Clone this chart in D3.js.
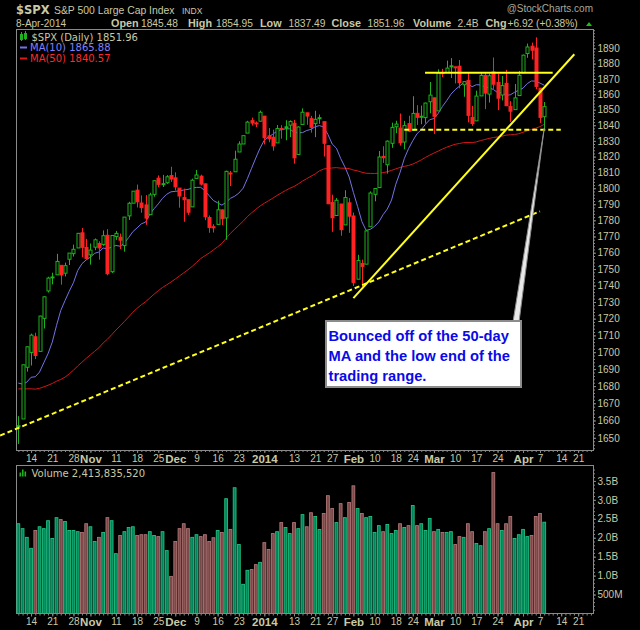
<!DOCTYPE html>
<html><head><meta charset="utf-8">
<script src="https://cdn.jsdelivr.net/npm/d3@7"></script>
<style>body{margin:0;background:#000;}svg{display:block;}</style>
</head><body>
<svg id="c" width="640" height="630"></svg>
<script>
// ---------------- DATA ----------------
const dates = ["2013-10-09","2013-10-10","2013-10-11","2013-10-14","2013-10-15","2013-10-16","2013-10-17","2013-10-18","2013-10-21","2013-10-22","2013-10-23","2013-10-24","2013-10-25","2013-10-28","2013-10-29","2013-10-30","2013-10-31","2013-11-01","2013-11-04","2013-11-05","2013-11-06","2013-11-07","2013-11-08","2013-11-11","2013-11-12","2013-11-13","2013-11-14","2013-11-15","2013-11-18","2013-11-19","2013-11-20","2013-11-21","2013-11-22","2013-11-25","2013-11-26","2013-11-27","2013-11-29","2013-12-02","2013-12-03","2013-12-04","2013-12-05","2013-12-06","2013-12-09","2013-12-10","2013-12-11","2013-12-12","2013-12-13","2013-12-16","2013-12-17","2013-12-18","2013-12-19","2013-12-20","2013-12-23","2013-12-24","2013-12-26","2013-12-27","2013-12-30","2013-12-31","2014-01-02","2014-01-03","2014-01-06","2014-01-07","2014-01-08","2014-01-09","2014-01-10","2014-01-13","2014-01-14","2014-01-15","2014-01-16","2014-01-17","2014-01-21","2014-01-22","2014-01-23","2014-01-24","2014-01-27","2014-01-28","2014-01-29","2014-01-30","2014-01-31","2014-02-03","2014-02-04","2014-02-05","2014-02-06","2014-02-07","2014-02-10","2014-02-11","2014-02-12","2014-02-13","2014-02-14","2014-02-18","2014-02-19","2014-02-20","2014-02-21","2014-02-24","2014-02-25","2014-02-26","2014-02-27","2014-02-28","2014-03-03","2014-03-04","2014-03-05","2014-03-06","2014-03-07","2014-03-10","2014-03-11","2014-03-12","2014-03-13","2014-03-14","2014-03-17","2014-03-18","2014-03-19","2014-03-20","2014-03-21","2014-03-24","2014-03-25","2014-03-26","2014-03-27","2014-03-28","2014-03-31","2014-04-01","2014-04-02","2014-04-03","2014-04-04","2014-04-07","2014-04-08"];
const open = [1656.99,1660.88,1691.09,1699.86,1709.17,1700.49,1720.17,1736.72,1745.20,1746.48,1752.27,1747.48,1756.01,1759.42,1762.93,1772.27,1763.24,1758.70,1763.40,1765.67,1765.00,1770.74,1748.37,1769.96,1769.51,1764.37,1782.75,1790.66,1798.82,1790.79,1789.59,1783.52,1796.19,1806.33,1802.87,1803.48,1808.01,1806.55,1800.10,1794.15,1792.82,1788.36,1806.21,1807.60,1802.76,1781.71,1776.01,1777.48,1786.47,1781.46,1809.00,1810.39,1822.92,1828.02,1834.96,1842.97,1841.47,1842.61,1845.86,1833.21,1832.31,1828.71,1837.90,1839.00,1840.06,1841.26,1821.36,1840.52,1847.99,1844.23,1841.05,1844.71,1842.29,1826.96,1791.03,1783.00,1790.15,1777.17,1790.88,1782.68,1743.82,1753.38,1752.99,1776.01,1796.20,1800.45,1820.12,1814.82,1828.46,1839.03,1838.22,1829.24,1841.07,1836.78,1847.66,1845.79,1844.90,1855.12,1857.68,1849.23,1874.05,1874.18,1878.52,1877.86,1878.26,1866.15,1869.06,1845.07,1842.81,1858.92,1872.25,1860.09,1874.53,1867.67,1859.48,1867.09,1852.11,1850.07,1859.16,1873.96,1886.61,1891.43,1890.25,1863.92,1845.48];
const high = [1662.47,1692.56,1703.44,1711.03,1711.57,1721.76,1733.45,1745.31,1747.79,1759.33,1752.27,1753.94,1759.82,1764.99,1772.09,1775.22,1768.53,1765.67,1768.78,1767.03,1773.74,1774.54,1770.78,1773.44,1771.78,1782.00,1791.53,1798.22,1802.33,1795.51,1795.73,1797.16,1804.84,1808.10,1808.42,1808.27,1813.55,1810.02,1800.10,1799.80,1792.82,1806.04,1811.52,1808.52,1802.97,1782.99,1777.60,1792.22,1786.77,1811.08,1810.88,1823.75,1829.75,1833.32,1842.84,1844.89,1842.47,1849.44,1845.86,1838.24,1837.16,1840.10,1840.02,1843.23,1843.15,1843.45,1839.26,1850.84,1847.99,1846.04,1849.31,1846.87,1842.29,1826.96,1795.98,1793.87,1790.15,1798.77,1793.88,1784.83,1758.73,1755.79,1774.06,1798.03,1799.94,1823.54,1826.55,1830.25,1841.65,1842.87,1847.50,1842.79,1846.13,1858.71,1852.91,1852.65,1854.53,1867.92,1857.68,1876.23,1876.53,1881.94,1883.57,1877.87,1882.35,1868.38,1874.40,1852.44,1862.30,1873.76,1874.14,1873.49,1883.97,1873.34,1871.87,1875.92,1855.55,1866.63,1875.18,1885.84,1893.17,1893.80,1897.28,1864.04,1854.95];
const low = [1646.47,1660.88,1688.52,1692.13,1695.93,1700.49,1714.12,1735.74,1740.67,1746.48,1740.50,1745.50,1752.45,1757.67,1762.93,1757.24,1755.72,1752.70,1761.56,1755.76,1764.23,1746.20,1747.63,1767.85,1762.29,1760.64,1780.22,1790.66,1788.00,1784.72,1777.23,1783.52,1794.70,1800.58,1800.77,1802.77,1803.98,1798.60,1787.85,1779.09,1783.38,1788.36,1806.21,1801.75,1780.09,1772.28,1772.44,1777.48,1777.05,1767.99,1801.35,1810.25,1822.92,1828.02,1834.96,1839.81,1838.77,1842.41,1827.74,1829.13,1823.73,1828.71,1831.40,1830.38,1832.43,1815.52,1821.36,1840.52,1840.30,1835.23,1832.38,1840.88,1820.06,1790.29,1772.88,1783.00,1770.45,1777.17,1772.26,1739.66,1743.82,1737.92,1752.99,1776.01,1791.83,1800.41,1815.97,1809.22,1825.59,1835.01,1826.99,1824.58,1835.60,1836.78,1840.19,1840.66,1841.13,1847.67,1834.44,1849.23,1871.11,1874.18,1870.56,1867.04,1863.88,1858.39,1841.86,1839.57,1842.81,1858.92,1850.35,1854.63,1863.46,1849.69,1855.96,1852.56,1842.11,1850.07,1859.16,1873.96,1883.79,1882.65,1863.26,1841.48,1837.49];
const close = [1656.40,1692.56,1703.20,1710.14,1698.06,1721.54,1733.15,1744.50,1744.66,1754.67,1746.38,1752.07,1759.77,1762.11,1771.95,1763.31,1756.54,1761.64,1767.93,1762.97,1770.49,1747.15,1770.61,1771.89,1767.69,1782.00,1790.62,1798.18,1791.53,1787.87,1781.37,1795.85,1804.76,1802.48,1802.75,1807.23,1805.81,1800.90,1795.15,1792.81,1785.03,1805.09,1808.37,1802.62,1782.22,1775.50,1775.32,1786.54,1781.00,1810.65,1809.60,1818.32,1827.99,1833.32,1842.02,1841.40,1841.07,1848.36,1831.98,1831.37,1826.77,1837.88,1837.49,1838.13,1842.37,1819.20,1838.88,1848.38,1845.89,1838.70,1843.80,1844.86,1828.46,1790.29,1781.56,1792.50,1774.20,1794.19,1782.59,1741.89,1755.20,1751.64,1773.43,1797.02,1799.84,1819.75,1819.26,1829.83,1838.63,1840.76,1828.75,1839.78,1836.25,1847.61,1845.12,1845.16,1854.29,1859.45,1845.73,1873.91,1873.81,1877.03,1878.04,1877.17,1867.63,1868.20,1846.34,1841.13,1858.83,1872.25,1860.77,1872.01,1866.52,1857.44,1865.62,1852.56,1849.04,1857.62,1872.34,1885.52,1890.90,1888.77,1865.09,1845.04,1851.96];
// volume, billions of shares
const volume = [2.37,2.24,2.01,1.72,2.19,2.29,2.24,2.45,1.98,2.53,2.48,2.43,2.19,2.19,2.16,2.14,2.37,2.29,1.90,2.01,2.14,2.53,2.45,1.58,2.06,2.16,2.27,2.29,2.06,2.08,2.08,2.16,2.06,2.03,2.16,1.66,0.98,1.90,2.24,2.37,2.24,2.01,2.08,2.03,2.08,1.90,2.00,2.19,2.14,3.03,2.22,3.32,1.82,0.77,1.14,1.16,1.29,1.35,1.87,1.69,2.11,2.16,2.40,2.27,2.11,2.40,2.24,2.61,2.29,2.66,2.56,2.22,2.64,3.11,2.77,2.40,2.90,2.53,2.93,3.37,2.77,2.64,2.53,2.56,2.14,2.32,2.16,2.35,2.11,2.19,2.37,2.27,2.32,2.85,2.32,2.37,2.19,2.51,2.16,2.22,2.14,2.14,2.16,1.82,2.03,2.01,2.37,2.16,1.85,1.79,2.16,2.24,3.72,2.37,2.19,2.37,2.56,1.98,2.08,2.22,2.03,2.06,2.56,2.64,2.41];
// closes of the 49 sessions before the first bar (for the moving averages)
const priorCloses = [1685.73,1706.87,1709.67,1707.14,1697.37,1690.91,1697.48,1691.42,1689.47,1694.16,1685.39,1661.32,1655.83,1646.06,1652.35,1642.80,1656.96,1663.50,1656.78,1630.48,1634.96,1638.17,1632.97,1639.77,1653.08,1655.08,1655.17,1671.71,1683.99,1689.13,1683.42,1687.99,1697.60,1704.76,1725.52,1722.34,1709.91,1701.84,1697.42,1692.77,1698.67,1691.75,1681.55,1695.00,1693.87,1678.66,1690.50,1676.12,1655.45];
// x axis: labels and the session index they sit on
const xTickLabels = ["14","21","28","Nov","11","18","25","Dec","9","16","23","2014","13","21","27","Feb","10","18","24","Mar","10","17","24","Apr","7","14","21"];
const xTickIndex  = [3,8,13,17,23,28,33,37,42,47,52,58,65,70,74,79,84,89,93,98,103,108,113,119,123,128,132];
const priceTicks = [1650,1660,1670,1680,1690,1700,1710,1720,1730,1740,1750,1760,1770,1780,1790,1800,1810,1820,1830,1840,1850,1860,1870,1880,1890];
const volTicks = [0.5,1.0,1.5,2.0,2.5,3.0,3.5];
const volTickLabels = ["500M","1.0B","1.5B","2.0B","2.5B","3.0B","3.5B"];
// drawn trend lines: [session index, price] end points
const supportLine = [[-4.3,1651.3],[123,1785.6]];
const risingLine  = [[79.0,1732.4],[131.1,1886.1]];
const rangeTop    = [[95.9,1874.0],[126.0,1874.0]];
const rangeBottom = [[91.0,1837.1],[127.9,1837.1]];
const calloutTip = [124,1838];
const calloutText = ["Bounced off of the 50-day","MA and the low end of the","trading range."];

// ---------------- CHART ----------------
const svg = d3.select("#c");
svg.append("rect").attr("width",640).attr("height",630).attr("fill","#000");
const P = {l:16, r:593, t:29, b:450};
const V = {t:465, b:613.5};
const x = d3.scaleLinear().domain([-0.55,135.5]).range([P.l,P.r]);
const y = d3.scaleLog().domain([1643.0,1902.8]).range([P.b,P.t]);
const yv = d3.scaleLinear().domain([0,3.92]).range([V.b,V.t]);
const AX = "#c9c9a6", FONT = "Liberation Sans, Arial, sans-serif", VFONT = "DejaVu Sans, Verdana, sans-serif";
const idx = d3.range(close.length);
const allC = priorCloses.concat(close);
function ma(n){ return idx.map(i=>{ const e = priorCloses.length+i; return d3.mean(allC.slice(e-n+1,e+1)); }); }
const ma10 = ma(10), ma50 = ma(50);
const prevClose = i => allC[priorCloses.length+i-1];

// header
const hdr = svg.append("g").attr("fill",AX).attr("font-family",FONT);
hdr.append("text").attr("x",16).attr("y",14).attr("font-family","DejaVu Sans, sans-serif").attr("font-weight","bold").attr("font-size",11.5).text("$SPX");
hdr.append("text").attr("x",54).attr("y",14).attr("font-size",10.4).text("S&P 500 Large Cap Index");
hdr.append("text").attr("x",182).attr("y",14).attr("font-size",8.5).text("INDX");
hdr.append("text").attr("x",593).attr("y",12).attr("text-anchor","end").attr("font-size",10).attr("fill","#a8a898").text("@StockCharts.com");
hdr.append("text").attr("x",16).attr("y",26.5).attr("font-size",10).text("8-Apr-2014");
const hv = [["Open",111],["1845.48",141],["High",188],["1854.95",216],["Low",260],["1837.49",288.5],["Close",331.5],["1851.96",367.5],["Volume",413],["2.4B",457.5],["Chg",485.5],["+6.92 (+0.38%)",507.5]];
hv.forEach((d,k)=>{
  hdr.append("text").attr("x",d[1]).attr("y",26.5)
    .attr("font-size", k%2===0 ? 10.8 : 10.2).attr("font-weight", k%2===0 ? "bold":"normal").text(d[0]);
});
hdr.append("path").attr("d","M586,26 L592,26 L589,22 Z").attr("fill","#19c019");

// panel frames
svg.append("path").attr("d",`M${P.l},${P.t} L${P.r},${P.t} M${P.l},${P.t} L${P.l},${P.b} L${P.r},${P.b} L${P.r},${P.t}`)
  .attr("stroke","#8a8a8a").attr("fill","none").attr("shape-rendering","crispEdges");
svg.append("path").attr("d",`M${P.l},${V.t} L${P.r},${V.t} M${P.l},${V.t} L${P.l},${V.b} L${P.r},${V.b} L${P.r},${V.t}`)
  .attr("stroke","#8a8a8a").attr("fill","none").attr("shape-rendering","crispEdges");

// y axis (price)
function styleAxis(g){ g.select(".domain").remove(); g.selectAll("line").attr("stroke","#8a8a8a"); g.selectAll("text").attr("fill",AX).attr("font-family",FONT); }
const minorP = d3.range(1644,1903,2);
svg.append("g").attr("transform",`translate(${P.r},0)`).call(d3.axisRight(y).tickValues(minorP).tickSize(2).tickFormat("")).call(styleAxis);
svg.append("g").attr("transform",`translate(${P.r},0)`)
  .call(d3.axisRight(y).tickValues(priceTicks).tickSize(3).tickPadding(1.5).tickFormat(d3.format("d")))
  .call(styleAxis).selectAll("text").attr("font-size",10);

// x axes (price + volume panels)
const months = new Set(["Nov","Dec","2014","Feb","Mar","Apr"]);
[P.b, V.b].forEach(yy=>{
  svg.append("g").attr("transform",`translate(0,${yy})`).call(d3.axisBottom(x).tickValues(d3.range(0,136)).tickSize(2).tickFormat("")).call(styleAxis);
  const g = svg.append("g").attr("transform",`translate(0,${yy})`)
    .call(d3.axisBottom(x).tickValues(xTickIndex).tickSize(3).tickPadding(1.5).tickFormat((d,i)=>xTickLabels[i]))
    .call(styleAxis);
  g.selectAll("text").attr("font-size",(d,i)=>months.has(xTickLabels[i])?11.5:10)
    .attr("font-weight",(d,i)=>months.has(xTickLabels[i])?"bold":"normal");
});

// volume y axis
svg.append("g").attr("transform",`translate(${P.r},0)`).call(d3.axisRight(yv).tickValues(d3.range(0.1,3.9,0.1)).tickSize(2).tickFormat("")).call(styleAxis);
svg.append("g").attr("transform",`translate(${P.r},0)`)
  .call(d3.axisRight(yv).tickValues(volTicks).tickSize(3).tickPadding(1.5).tickFormat((d,i)=>volTickLabels[i]))
  .call(styleAxis).selectAll("text").attr("font-size",10);

// moving averages
const line = d3.line().x((d,i)=>x(i)).y(d=>y(d));
svg.append("path").attr("d",line(ma50)).attr("fill","none").attr("stroke","#d01818").attr("stroke-width",1);
svg.append("path").attr("d",line(ma10)).attr("fill","none").attr("stroke","#7373e6").attr("stroke-width",1);

// candles
const up = i => close[i] >= prevClose(i);
const GREEN = "#1fb21f", RED = "#ff2222";
const cg = svg.append("g");
cg.selectAll("line.w").data(idx).join("line")
  .attr("x1",i=>Math.round(x(i))+0.5).attr("x2",i=>Math.round(x(i))+0.5)
  .attr("y1",i=>y(high[i])).attr("y2",i=>y(low[i]))
  .attr("stroke",i=>up(i)?GREEN:RED).attr("stroke-width",1);
cg.selectAll("rect.b").data(idx).join("rect")
  .attr("x",i=>Math.round(x(i))-1)
  .attr("width",3)
  .attr("y",i=>y(Math.max(open[i],close[i])))
  .attr("height",i=>Math.max(1,y(Math.min(open[i],close[i]))-y(Math.max(open[i],close[i]))))
  .attr("fill",i=>close[i]<open[i]?(up(i)?GREEN:RED):"#000")
  .attr("stroke",i=>up(i)?GREEN:RED).attr("stroke-width",1);

// trend lines
const tl = d3.line().x(d=>x(d[0])).y(d=>y(d[1]));
const YEL = "#ffff1a";
svg.append("path").attr("d",tl(supportLine)).attr("stroke",YEL).attr("stroke-width",2).attr("stroke-dasharray","5,3").attr("fill","none");
svg.append("path").attr("d",tl(rangeBottom)).attr("stroke",YEL).attr("stroke-width",2).attr("stroke-dasharray","5,3").attr("fill","none");
svg.append("path").attr("d",tl(rangeTop)).attr("stroke",YEL).attr("stroke-width",2).attr("fill","none");
svg.append("path").attr("d",tl(risingLine)).attr("stroke",YEL).attr("stroke-width",2).attr("fill","none");

// callout
const tipX = x(calloutTip[0]), tipY = y(calloutTip[1]);
const bx = 326, by = 321, bw = 195, bh = 66;
svg.append("path").attr("d",`M${bx+bw-8},${by+1} L${tipX},${tipY} L${bx+bw-2},${by+1} Z`).attr("fill","#e8e8e8").attr("stroke","#8c8c8c").attr("stroke-width",1);
svg.append("rect").attr("x",bx).attr("y",by).attr("width",bw).attr("height",bh).attr("fill","#fff").attr("stroke","#8c8c8c").attr("stroke-width",2);
svg.append("g").selectAll("text").data(calloutText).join("text")
  .attr("x",bx+2.5).attr("y",(d,i)=>by+19.5+i*20).attr("fill","#0a0ae8")
  .attr("font-family",FONT).attr("font-weight","bold").attr("font-size",14.7).text(d=>d);

// volume bars
svg.append("g").selectAll("rect").data(idx).join("rect")
  .attr("x",i=>x(i)-1.4).attr("width",2.8)
  .attr("y",i=>yv(volume[i])).attr("height",i=>yv(0)-yv(volume[i]))
  .attr("fill",i=>up(i)?"#00845a":"#7a4848")
  .attr("stroke",i=>up(i)?"#22c080":"#b07575").attr("stroke-width",0.9);

// legends
const lg = svg.append("g").attr("font-family",VFONT).attr("font-size",10);
lg.append("rect").attr("x",20.5).attr("y",34.5).attr("width",2).attr("height",5).attr("fill","none").attr("stroke",GREEN);
lg.append("rect").attr("x",24.5).attr("y",33.5).attr("width",2).attr("height",5).attr("fill","none").attr("stroke",GREEN);
lg.append("line").attr("x1",21.5).attr("x2",21.5).attr("y1",32).attr("y2",41).attr("stroke",GREEN);
lg.append("line").attr("x1",25.5).attr("x2",25.5).attr("y1",31).attr("y2",40).attr("stroke",GREEN);
lg.append("text").attr("x",31.5).attr("y",40.5).attr("fill",AX).text("$SPX (Daily) 1851.96");
lg.append("line").attr("x1",20).attr("x2",27).attr("y1",47.5).attr("y2",47.5).attr("stroke","#7373e6").attr("stroke-width",2);
lg.append("text").attr("x",30).attr("y",51).attr("fill","#8080ff").text("MA(10) 1865.88");
lg.append("line").attr("x1",20).attr("x2",27).attr("y1",58.5).attr("y2",58.5).attr("stroke","#e01818").attr("stroke-width",2);
lg.append("text").attr("x",30).attr("y",62).attr("fill","#ff2a2a").text("MA(50) 1840.57");
[[19.5,4],[22,7],[24.5,5]].forEach(d=>lg.append("rect").attr("x",d[0]).attr("y",476.5-d[1]).attr("width",1.6).attr("height",d[1]).attr("fill","#1fb21f"));
lg.append("text").attr("x",31.5).attr("y",476.5).attr("fill",AX).text("Volume 2,413,835,520");
</script>
</body></html>
